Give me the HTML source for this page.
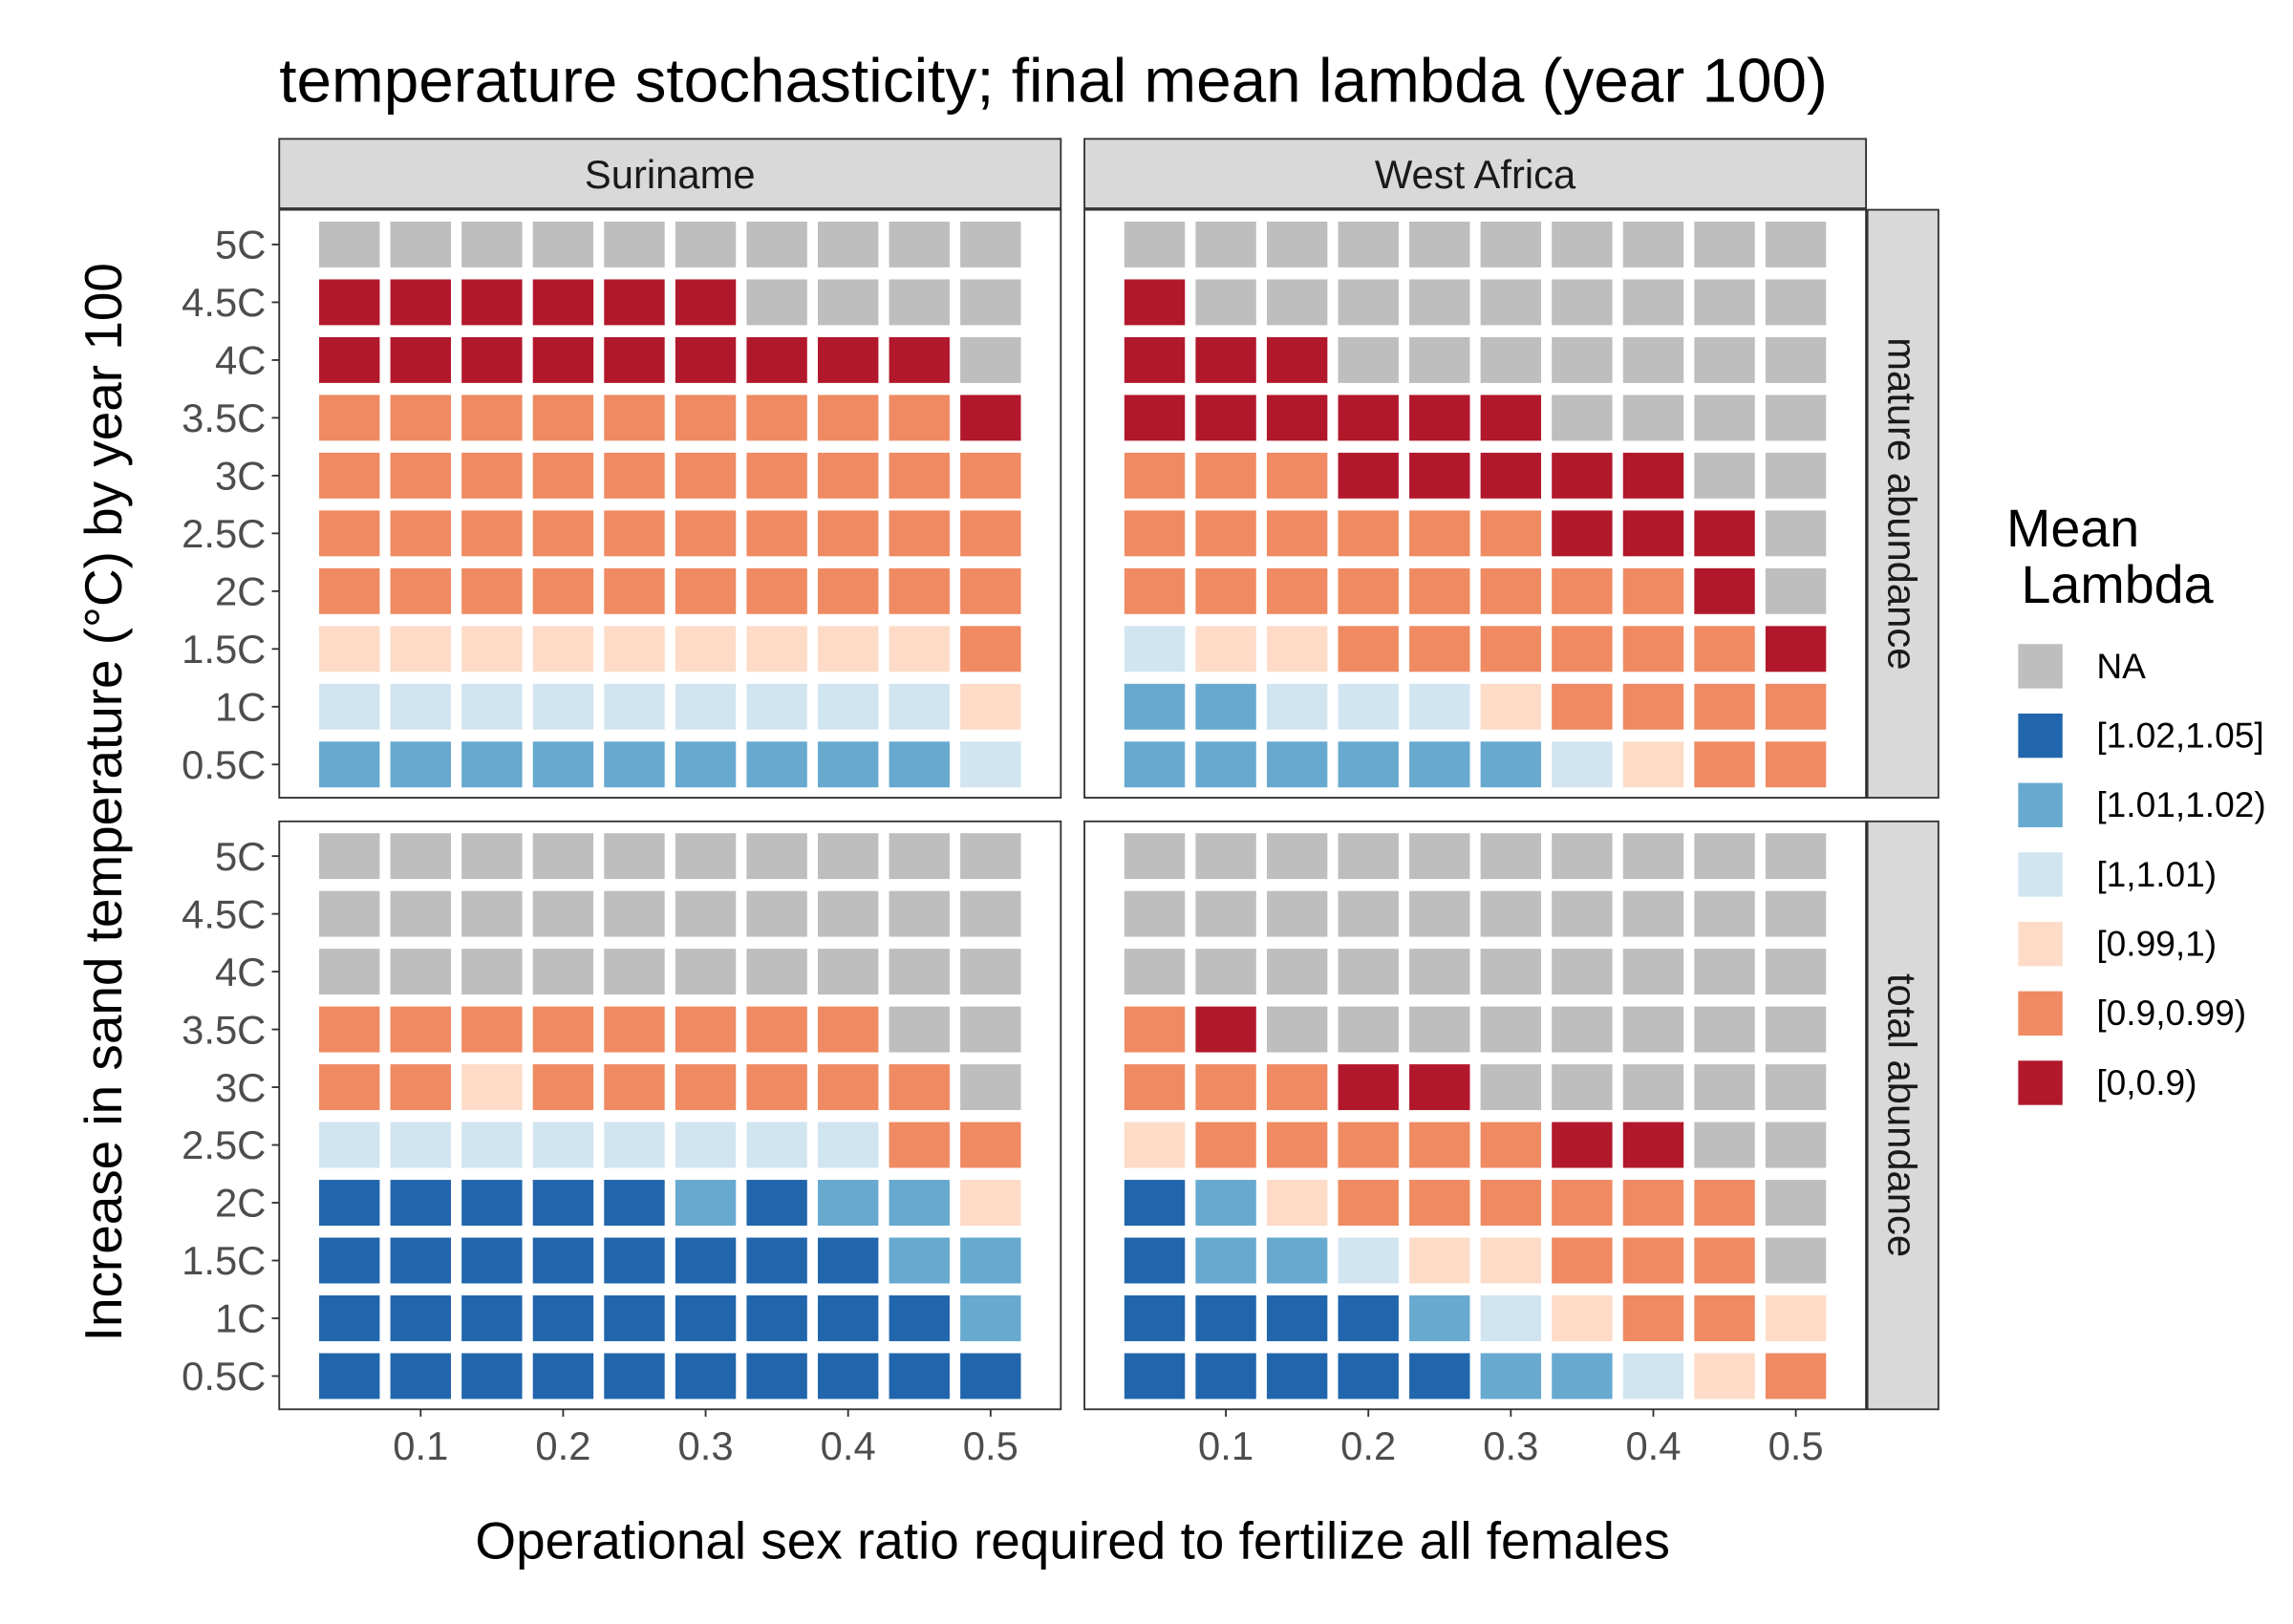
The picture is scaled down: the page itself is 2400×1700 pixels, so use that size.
<!DOCTYPE html>
<html><head><meta charset="utf-8"><style>
html,body{margin:0;padding:0;background:#fff;}
svg{display:block;font-family:"Liberation Sans",Arial,sans-serif;}
</style></head><body>
<svg id="chart" width="2400" height="1700" viewBox="0 0 1552 1099.33" preserveAspectRatio="none" xmlns="http://www.w3.org/2000/svg">
<rect x="0" y="0" width="1552" height="1100" fill="#fff"/>
<text x="189" y="69" font-size="42" textLength="1048" lengthAdjust="spacingAndGlyphs" fill="#000">temperature stochasticity; final mean lambda (year 100)</text>
<text transform="translate(82,543) rotate(-90)" text-anchor="middle" font-size="35.5" fill="#000">Increase in sand temperature (°C) by year 100</text>
<text x="726" y="1055" text-anchor="middle" font-size="35.5" fill="#000">Operational sex ratio required to fertilize all females</text>
<g id="legend">
<text x="1358" y="370" font-size="36" fill="#000">Mean</text>
<text x="1368" y="408" font-size="36" fill="#000">Lambda</text>
</g>
<g id="plots"></g>
</svg>
<script>
const xTicks = [0.1, 0.2, 0.3, 0.4, 0.5];
const xValues = [0.05,0.1,0.15,0.2,0.25,0.3,0.35,0.4,0.45,0.5];
const yValues = [5,4.5,4,3.5,3,2.5,2,1.5,1,0.5];
const yTickLabels = ["5C","4.5C","4C","3.5C","3C","2.5C","2C","1.5C","1C","0.5C"];
const categories = ["NA","[1.02,1.05]","[1.01,1.02)","[1,1.01)","[0.99,1)","[0.9,0.99)","[0,0.9)"];
const catColors = ["#BEBEBE","#2166AC","#67A9CF","#D1E5F0","#FDDBC7","#EF8A62","#B2182B"];
// codes: 0=NA,1=[1.02,1.05],2=[1.01,1.02),3=[1,1.01),4=[0.99,1),5=[0.9,0.99),6=[0,0.9); rows 5C..0.5C
const surinameMature = [
[0,0,0,0,0,0,0,0,0,0],
[6,6,6,6,6,6,0,0,0,0],
[6,6,6,6,6,6,6,6,6,0],
[5,5,5,5,5,5,5,5,5,6],
[5,5,5,5,5,5,5,5,5,5],
[5,5,5,5,5,5,5,5,5,5],
[5,5,5,5,5,5,5,5,5,5],
[4,4,4,4,4,4,4,4,4,5],
[3,3,3,3,3,3,3,3,3,4],
[2,2,2,2,2,2,2,2,2,3]];
const westAfricaMature = [
[0,0,0,0,0,0,0,0,0,0],
[6,0,0,0,0,0,0,0,0,0],
[6,6,6,0,0,0,0,0,0,0],
[6,6,6,6,6,6,0,0,0,0],
[5,5,5,6,6,6,6,6,0,0],
[5,5,5,5,5,5,6,6,6,0],
[5,5,5,5,5,5,5,5,6,0],
[3,4,4,5,5,5,5,5,5,6],
[2,2,3,3,3,4,5,5,5,5],
[2,2,2,2,2,2,3,4,5,5]];
const surinameTotal = [
[0,0,0,0,0,0,0,0,0,0],
[0,0,0,0,0,0,0,0,0,0],
[0,0,0,0,0,0,0,0,0,0],
[5,5,5,5,5,5,5,5,0,0],
[5,5,4,5,5,5,5,5,5,0],
[3,3,3,3,3,3,3,3,5,5],
[1,1,1,1,1,2,1,2,2,4],
[1,1,1,1,1,1,1,1,2,2],
[1,1,1,1,1,1,1,1,1,2],
[1,1,1,1,1,1,1,1,1,1]];
const westAfricaTotal = [
[0,0,0,0,0,0,0,0,0,0],
[0,0,0,0,0,0,0,0,0,0],
[0,0,0,0,0,0,0,0,0,0],
[5,6,0,0,0,0,0,0,0,0],
[5,5,5,6,6,0,0,0,0,0],
[4,5,5,5,5,5,6,6,0,0],
[1,2,4,5,5,5,5,5,5,0],
[1,2,2,3,4,4,5,5,5,0],
[1,1,1,1,2,3,4,5,5,4],
[1,1,1,1,1,2,2,3,4,5]];

const NS="http://www.w3.org/2000/svg";
const root=document.getElementById('plots');
function mk(tag,attrs,parent){const e=document.createElementNS(NS,tag);for(const k in attrs)e.setAttribute(k,attrs[k]);(parent||root).appendChild(e);return e;}
const colPitch=48.22, rowPitch=39.11, tileW=41, tileH=31;
function xScale(x0,v){return x0+47.5+(v/0.05-1)*colPitch;}
function yScale(y0,t){return y0+375.5-((t-0.5)/0.5)*rowPitch;}

const panels=[
 {x0:189,y0:142,data:surinameMature,name:'suriname-mature',left:true,bottom:false},
 {x0:734,y0:142,data:westAfricaMature,name:'west-africa-mature',left:false,bottom:false},
 {x0:189,y0:556,data:surinameTotal,name:'suriname-total',left:true,bottom:true},
 {x0:734,y0:556,data:westAfricaTotal,name:'west-africa-total',left:false,bottom:true}];
const PW=529, PH=398;

panels.forEach(p=>{
  const g=mk('g',{});
  
  
  p.data.forEach((row,ri)=>{
    row.forEach((c,ci)=>{
      const cx=xScale(p.x0,xValues[ci]), cy=yScale(p.y0,yValues[ri]);
      const r=mk('rect',{x:cx-tileW/2,y:cy-tileH/2,width:tileW,height:tileH,fill:catColors[c]},g);
      
      
    });
  });
  const b=mk('rect',{x:p.x0,y:p.y0,width:PW,height:PH,fill:'none',stroke:'#333','stroke-width':1.2},g);
  
  
  if(p.left){
    yValues.forEach((t,i)=>{
      const y=yScale(p.y0,t);
      const tk=mk('line',{x1:p.x0-5,x2:p.x0,y1:y,y2:y,stroke:'#333','stroke-width':1.2},g);
      
      
      const tl=mk('text',{x:p.x0-9,y:y+9.5,'text-anchor':'end','font-size':27,fill:'#4D4D4D'},g);
      tl.textContent=yTickLabels[i];
      
      
    });
  }
  if(p.bottom){
    xTicks.forEach(v=>{
      const x=xScale(p.x0,v);
      const tk=mk('line',{x1:x,x2:x,y1:p.y0+PH,y2:p.y0+PH+5,stroke:'#333','stroke-width':1.2},g);
      
      
      const tl=mk('text',{x:x,y:p.y0+PH+34,'text-anchor':'middle','font-size':27,fill:'#4D4D4D'},g);
      tl.textContent=String(v);
      
      
    });
  }
});

// column strips
[['Suriname',189],['West Africa',734]].forEach(([lab,x])=>{
  const s=mk('rect',{x:x,y:94,width:PW,height:47,fill:'#D9D9D9',stroke:'#333','stroke-width':1.2});
  
  
  const t=mk('text',{x:x+PW/2,y:127.5,'text-anchor':'middle','font-size':27,fill:'#1A1A1A'});
  t.textContent=lab;
  
  
});
// row strips
[['mature abundance',142],['total abundance',556]].forEach(([lab,y])=>{
  const s=mk('rect',{x:1264,y:y,width:48,height:PH,fill:'#D9D9D9',stroke:'#333','stroke-width':1.2});
  
  
  const t=mk('text',{transform:'translate(1278,'+(y+PH/2)+') rotate(90)','text-anchor':'middle','font-size':27,fill:'#1A1A1A'});
  t.textContent=lab;
  
  
});

// legend
const lg=document.getElementById('legend');
categories.forEach((c,i)=>{
  const cy=451+i*47;
  const k=mk('rect',{x:1366,y:cy-15,width:30,height:30,fill:catColors[i]},lg);
  
  
  const t=mk('text',{x:1419,y:cy+8,'font-size':24,fill:'#000'},lg);
  t.textContent=c;
  
  
});
</script>
</body></html>
